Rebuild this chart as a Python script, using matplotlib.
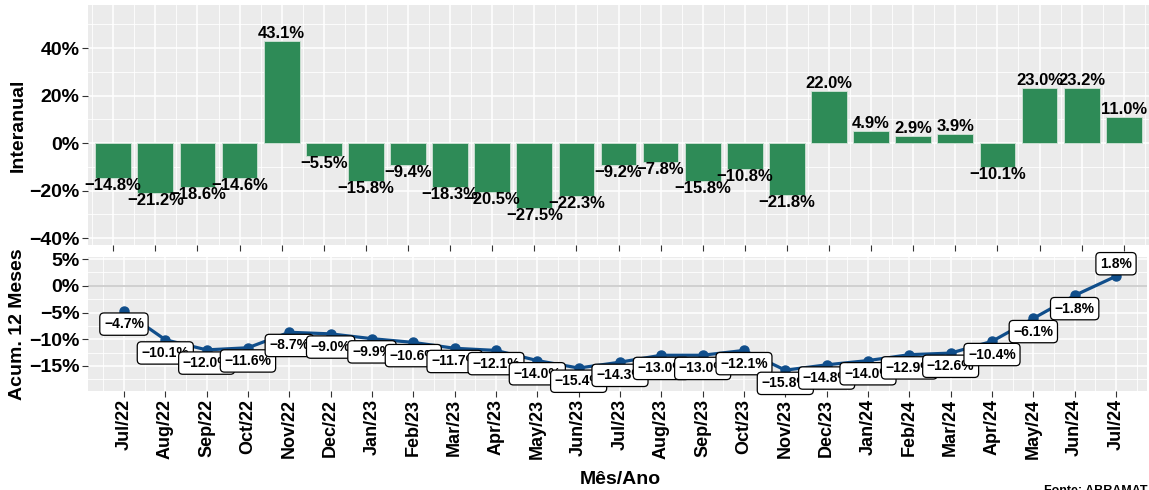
import numpy as np
import matplotlib
matplotlib.use("Agg")
import matplotlib.pyplot as plt

plt.rcParams['font.family'] = ['Liberation Sans', 'DejaVu Sans']
plt.rcParams['font.weight'] = 'bold'

meses = ['Jul/22', 'Aug/22', 'Sep/22', 'Oct/22', 'Nov/22', 'Dec/22', 'Jan/23', 'Feb/23',
         'Mar/23', 'Apr/23', 'May/23', 'Jun/23', 'Jul/23', 'Aug/23', 'Sep/23', 'Oct/23',
         'Nov/23', 'Dec/23', 'Jan/24', 'Feb/24', 'Mar/24', 'Apr/24', 'May/24', 'Jun/24', 'Jul/24']
interanual = [-14.8, -21.2, -18.6, -14.6, 43.1, -5.5, -15.8, -9.4, -18.3, -20.5, -27.5, -22.3,
              -9.2, -7.8, -15.8, -10.8, -21.8, 22.0, 4.9, 2.9, 3.9, -10.1, 23.0, 23.2, 11.0]
acum12 = [-4.7, -10.1, -12.0, -11.6, -8.7, -9.0, -9.9, -10.6, -11.7, -12.1, -14.0, -15.4,
          -14.3, -13.0, -13.0, -12.1, -15.8, -14.8, -14.0, -12.9, -12.6, -10.4, -6.1, -1.8, 1.8]

top_ticks = [-40, -20, 0, 20, 40]
bot_ticks = [-15, -10, -5, 0, 5]

BG = '#EBEBEB'
BAR = '#2E8B57'
LINE = '#104E8B'
W, H = 1149, 490


def fmt(v):
    s = f'{abs(v):.1f}%'
    return ('\u2212' + s) if v < 0 else s


def style_ax(ax, yticks, minor_y):
    ax.set_facecolor(BG)
    for s in ax.spines.values():
        s.set_visible(False)
    n = len(meses)
    for x in np.arange(-0.5, n, 1.0):
        ax.axvline(x, color='white', lw=0.6, zorder=0)
    for x in range(n):
        ax.axvline(x, color='white', lw=1.1, zorder=0)
    for y in minor_y:
        ax.axhline(y, color='white', lw=0.6, zorder=0)
    for y in yticks:
        ax.axhline(y, color='white', lw=1.1, zorder=0)
    ax.set_yticks(yticks)
    ax.set_yticklabels([f'{t:.0f}%'.replace('-', '\u2212') for t in yticks],
                       fontsize=14, fontweight='bold', color='black')
    ax.set_xticks(range(n))
    ax.tick_params(axis='both', length=4, color='#333333', width=0.8, pad=2)


fig = plt.figure(figsize=(W / 100, H / 100), dpi=100)

# painel superior: variação interanual
ax1 = fig.add_axes([88 / W, 1 - 245 / H, 1061 / W, 240 / H])
x = np.arange(len(meses))
ax1.bar(x, interanual, width=0.85, color=BAR, edgecolor='#cfe3d6', linewidth=0.6, zorder=2)
for xi, v in zip(x, interanual):
    ax1.text(xi, v, fmt(v), ha='center', va='bottom' if v >= 0 else 'top',
             fontsize=12, fontweight='bold', color='black', zorder=3)
style_ax(ax1, top_ticks, [-30, -10, 10, 30, 50])
ax1.set_xlim(-0.6, len(meses) - 0.4)
ax1.set_ylim(-42.9, 58.1)
ax1.set_xticklabels([])

# painel inferior: acumulado 12 meses
ax2 = fig.add_axes([88 / W, 1 - 391 / H, 1059 / W, 134 / H])
style_ax(ax2, bot_ticks, [-17.5, -12.5, -7.5, -2.5, 2.5])
ax2.axhline(0, color='#C8C8C8', lw=1.2, zorder=1)
ax2.plot(x, acum12, color=LINE, lw=2.3, marker='o', markersize=6.5, zorder=3)
for i, (xi, v) in enumerate(zip(x, acum12)):
    dy = 9 if i == len(acum12) - 1 else -9.5
    ax2.annotate(fmt(v), (xi, v), xytext=(0, dy), textcoords='offset points',
                 ha='center', va='center', fontsize=10, fontweight='bold', zorder=4 + i,
                 bbox=dict(boxstyle='round,pad=0.3', fc='white', ec='black', lw=0.9))
ax2.set_xlim(-0.87, len(meses) - 0.25)
ax2.set_ylim(-19.7, 5.4)
ax2.set_xticklabels(meses, rotation=90, fontsize=13, fontweight='bold', color='black')

fig.text(18 / W, 1 - 125 / H, 'Interanual', rotation=90, ha='center', va='center',
         fontsize=14, fontweight='bold')
fig.text(18 / W, 1 - 324 / H, 'Acum. 12 Meses', rotation=90, ha='center', va='center',
         fontsize=14, fontweight='bold')
fig.text(620 / W, 1 - 479 / H, 'Mês/Ano', ha='center', va='center',
         fontsize=14, fontweight='bold')
# legenda da fonte, cortada na borda inferior como na referência
fig.text(1148 / W, 1 - 485 / H, 'Fonte: ABRAMAT', ha='right', va='top',
         fontsize=9, fontweight='bold')

fig.savefig('out.png', dpi=100)
